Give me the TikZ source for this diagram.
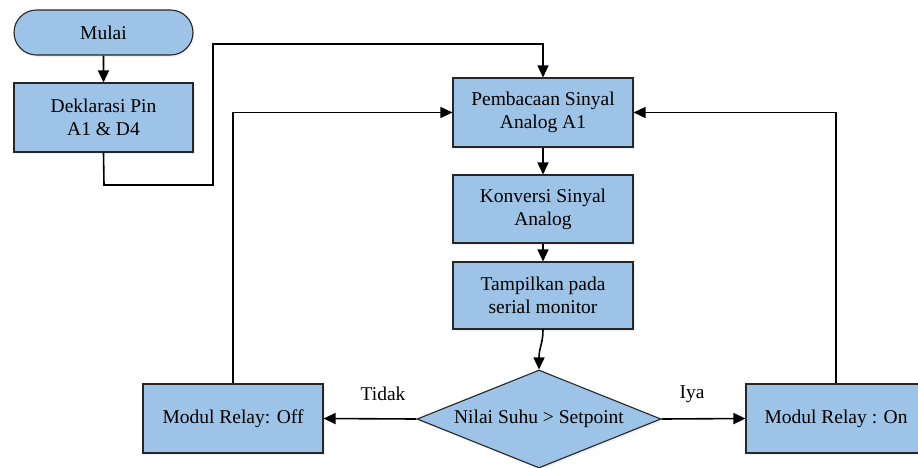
\documentclass[tikz,border=0pt]{standalone}
\usepackage{fontspec}
\setmainfont{Liberation Serif}
\usetikzlibrary{arrows.meta,shapes.geometric,shapes.misc,shadows}
\definecolor{boxfill}{HTML}{9DC3E6}
\definecolor{boxline}{HTML}{262626}
\tikzset{
  every node/.style={font=\fontsize{19.5}{23}\selectfont},
  fc/.style={draw=boxline, line width=1.1pt, fill=boxfill, align=center, inner sep=0pt,
    drop shadow={opacity=0.12, shadow xshift=1.5pt, shadow yshift=-2pt}},
  procbox/.style={fc, rectangle, minimum width=180pt, minimum height=69pt},
  termbox/.style={fc, rounded rectangle, minimum width=179pt, minimum height=45pt},
  decbox/.style={fc, diamond, minimum width=244pt, minimum height=98pt},
  conn/.style={line width=1.6pt, -{Triangle[length=12pt,width=11pt]}},
  lbl/.style={inner sep=0pt}
}
\begin{document}
\begin{tikzpicture}[x=1pt,y=-1pt]
\clip (0,0) rectangle (918,467);
\fill[white] (0,0) rectangle (918,467);
\node[termbox] (mulai) at (103.5,32.5) {Mulai};
\node[procbox, minimum width=179pt] (dekl) at (103.5,117.5) {Deklarasi Pin\\A1 \& D4};
\node[procbox] (baca) at (543,112.5) {Pembacaan Sinyal\\Analog A1};
\node[procbox, minimum height=68pt] (konv) at (543,209) {Konversi Sinyal\\Analog};
\node[procbox, minimum height=67pt] (tamp) at (543,295.5) {Tampilkan pada\\serial monitor};
\node[decbox] (dec) at (539,419) {};
\node[lbl] (dectext) at (dec.center) {Nilai Suhu > Setpoint};
\node[procbox] (off) at (233,418.5) {Modul Relay: Off};
\node[procbox] (on) at (836,418.5) {Modul Relay : On};
\node[lbl] (tidak) at (383,394) {Tidak};
\node[lbl] (iya) at (692,394) {Iya};
\coordinate (c1) at (104,185);
\coordinate (c2) at (213,185);
\coordinate (c3) at (213,44);
\draw[conn] (mulai) -- (dekl);
\draw[conn] (dekl.south) -- (c1) -- (c2) -- (c3) -| (baca.north);
\draw[conn] (baca) -- (konv);
\draw[conn] (konv) -- (tamp);
\draw[conn] (tamp.south) .. controls ([yshift=-14pt]tamp.south) and ([yshift=22pt]dec.north) .. (dec.north);
\draw[conn] (dec.west) -- (off.east);
\draw[conn] (dec.east) -- (on.west);
\draw[conn] (off.north) |- (baca.west);
\draw[conn] (on.north) |- (baca.east);
\end{tikzpicture}
\end{document}
